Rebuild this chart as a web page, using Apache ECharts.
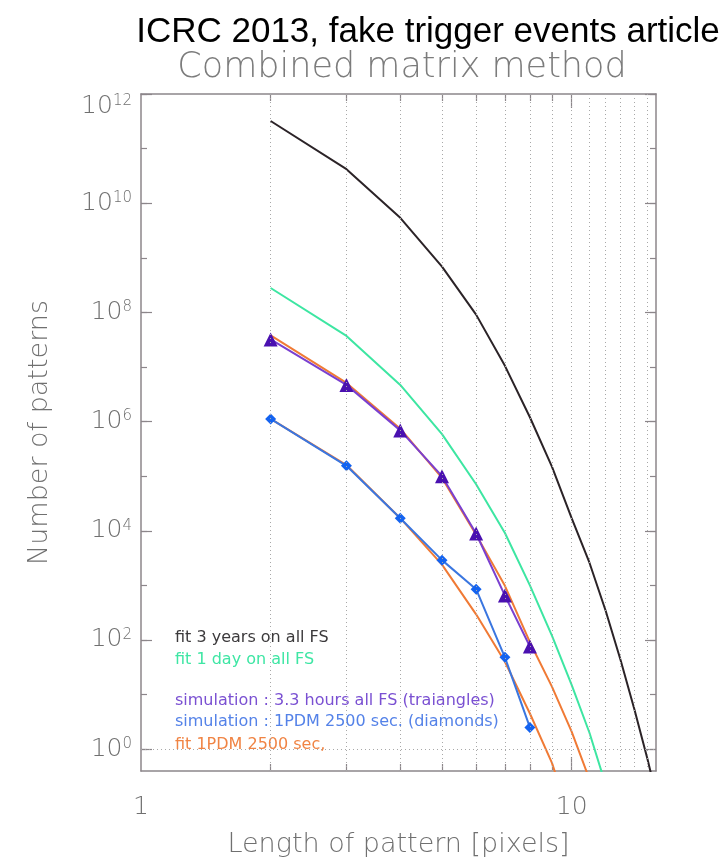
<!DOCTYPE html>
<html>
<head>
<meta charset="utf-8">
<script src="https://cdn.jsdelivr.net/npm/echarts@6/dist/echarts.min.js"></script>
<style>
html, body { margin: 0; padding: 0; background: #fff; }
#chart { width: 728px; height: 863px; }
</style>
</head>
<body>
<div id="chart"></div>
<script>
// pattern length in pixels (x values of every curve)
var pixelLengths = [2, 3, 4, 5, 6, 7, 8, 9, 10, 11, 12, 13, 14, 15, 16];

// fit curves (number of patterns)
var fit3Years = [3.2e11, 4.2e10, 5.4e9, 6.9e8, 9.1e7, 1.05e7, 1.2e6, 1.5e5, 1.7e4, 2.6e3, 340, 42, 5.2, 0.66, 0.08];
var fit1Day = [2.8e8, 3.7e7, 4.7e6, 5.9e5, 7.1e4, 9.1e3, 1.0e3, 120, 15, 2.0, 0.22];
var fit33Hours = [3.8e7, 5.1e6, 7.4e5, 9.3e4, 8.5e3, 980, 91, 14, 2.1, 0.28, 0.03];
var fit1PDM = [1.12e6, 1.6e5, 1.7e4, 2.4e3, 295, 40, 4.5, 0.56, 0.045];

// simulations
var simTriangles = [3.2e7, 4.7e6, 6.9e5, 1.0e5, 8.9e3, 650, 76];
var simDiamonds = [1.12e6, 1.55e5, 1.7e4, 2.9e3, 850, 48, 2.5];

// axis ticks and labels
var xLabelValues = [1, 10];
var xMinorTicks = [2, 3, 4, 5, 6, 7, 8, 9];
var xMajorTicks = [10];
var yDecades = [1, 1e1, 1e2, 1e3, 1e4, 1e5, 1e6, 1e7, 1e8, 1e9, 1e10, 1e11, 1e12];
var yLabelValues = [1, 1e2, 1e4, 1e6, 1e8, 1e10, 1e12];

// vertical dotted grid lines
var gridX = [2, 3, 4, 5, 6, 7, 8, 9, 10, 11, 12, 13, 14, 15];

var legendLines = [
    { text: 'fit 3 years on all FS', color: '#3c3a3c', y: 640 },
    { text: 'fit 1 day on all FS', color: '#3ee6a4', y: 662 },
    { text: 'simulation : 3.3 hours all FS (traiangles)', color: '#7a50d2', y: 703 },
    { text: 'simulation : 1PDM 2500 sec. (diamonds)', color: '#5482e8', y: 724 },
    { text: 'fit 1PDM 2500 sec,', color: '#f08444', y: 747 }
];

function pairs(values) {
    return values.map(function (v, i) { return [pixelLengths[i], v]; });
}

var dom = document.getElementById('chart');
var myChart = echarts.init(dom, null, { renderer: 'canvas' });

var axisGray = '#8c868a';
var textGray = '#707070';
var labelFont = 'DejaVu Sans';
var xMin = 1, xMax = 15.7;
var yMin = Math.pow(10, -0.4), yMax = 1e12;

function xAxisDef(position, ticks, tickLen, extra) {
    var a = {
        type: 'log', logBase: 10, min: xMin, max: xMax,
        position: position,
        axisLine: { show: true, lineStyle: { color: axisGray, width: 1.5 } },
        axisTick: { show: true, inside: true, length: tickLen, customValues: ticks, lineStyle: { color: axisGray, width: 1.2 } },
        axisLabel: { show: false },
        splitLine: { show: false }
    };
    return Object.assign(a, extra || {});
}

function yAxisDef(position, ticks, tickLen, extra) {
    var a = {
        type: 'log', logBase: 10, min: yMin, max: yMax,
        position: position,
        axisLine: { show: true, lineStyle: { color: axisGray, width: 1.5 } },
        axisTick: { show: true, inside: true, length: tickLen, customValues: ticks, lineStyle: { color: axisGray, width: 1.2 } },
        axisLabel: { show: false },
        splitLine: { show: false }
    };
    return Object.assign(a, extra || {});
}

var option = {
    animation: false,
    backgroundColor: '#fff',
    title: [
        {
            text: 'ICRC 2013, fake trigger events article',
            left: 423, top: 10, textAlign: 'center',
            textStyle: { fontFamily: 'Liberation Sans', fontSize: 35, fontWeight: 'normal', color: '#000' }
        },
        {
            text: 'Combined matrix method',
            left: 397, top: 45, textAlign: 'center',
            textStyle: { fontFamily: labelFont, fontSize: 35, fontWeight: 200, color: '#7c7c7c' }
        }
    ],
    grid: { left: 141, right: 72, top: 94, bottom: 87, containLabel: false },
    xAxis: [
        xAxisDef('bottom', xMinorTicks, 7, {
            name: 'Length of pattern [pixels]',
            nameLocation: 'middle', nameGap: 60,
            nameTextStyle: { fontFamily: labelFont, fontSize: 27, fontWeight: 200, color: textGray },
            axisLabel: {
                show: true, customValues: xLabelValues, margin: 24,
                fontFamily: labelFont, fontSize: 25, fontWeight: 200, color: textGray
            }
        }),
        xAxisDef('bottom', xMajorTicks, 14, { axisLine: { show: false } }),
        xAxisDef('top', xMinorTicks, 7),
        xAxisDef('top', xMajorTicks, 14, { axisLine: { show: false } })
    ],
    yAxis: [
        yAxisDef('left', yDecades, 6, {
            name: 'Number of patterns',
            nameLocation: 'middle', nameGap: 88, nameRotate: 90,
            nameTextStyle: { fontFamily: labelFont, fontSize: 27, fontWeight: 200, color: textGray },
            axisLabel: {
                show: true, customValues: yLabelValues, margin: 9,
                verticalAlignMaxLabel: 'top',
                formatter: function (v) {
                    return '{b|10}{s|' + Math.round(Math.log10(v)) + '}';
                },
                rich: {
                    b: { fontFamily: labelFont, fontSize: 25, fontWeight: 200, color: textGray },
                    s: { fontFamily: labelFont, fontSize: 15, fontWeight: 200, color: textGray, verticalAlign: 'top' }
                }
            }
        }),
        yAxisDef('left', yLabelValues, 11, { axisLine: { show: false } }),
        yAxisDef('right', yDecades, 6),
        yAxisDef('right', yLabelValues, 11, { axisLine: { show: false } })
    ],
    graphic: legendLines.map(function (l) {
        return {
            type: 'text', left: 175, top: l.y - 10,
            style: { text: l.text, fill: l.color, font: '16px "DejaVu Sans"' }
        };
    }),
    series: [
        {
            name: 'fit 3 years on all FS', type: 'line', data: pairs(fit3Years),
            symbol: 'none', lineStyle: { color: '#2b2327', width: 2 }, z: 2,
            markLine: {
                silent: true, symbol: 'none', label: { show: false },
                lineStyle: { type: [1, 3], color: '#a8a8a8', width: 1 },
                data: gridX.map(function (x) { return { xAxis: x }; }).concat([{ yAxis: 1 }])
            }
        },
        {
            name: 'fit 1 day on all FS', type: 'line', data: pairs(fit1Day),
            symbol: 'none', lineStyle: { color: '#3de6a2', width: 2 }, z: 2
        },
        {
            name: 'fit 3.3 hours', type: 'line', data: pairs(fit33Hours),
            symbol: 'none', lineStyle: { color: '#f07a35', width: 2 }, z: 2
        },
        {
            name: 'fit 1PDM 2500 sec,', type: 'line', data: pairs(fit1PDM),
            symbol: 'none', lineStyle: { color: '#f07a35', width: 2 }, z: 2
        },
        {
            name: 'simulation : 3.3 hours all FS (traiangles)', type: 'line', data: pairs(simTriangles),
            symbol: 'triangle', symbolSize: 14, itemStyle: { color: '#4a10b0' },
            lineStyle: { color: '#7a40d0', width: 2 }, z: 3
        },
        {
            name: 'simulation : 1PDM 2500 sec. (diamonds)', type: 'line', data: pairs(simDiamonds),
            symbol: 'diamond', symbolSize: 11, itemStyle: { color: '#1463f0' },
            lineStyle: { color: '#3a76e0', width: 2 }, z: 3
        }
    ]
};

if (option && typeof option === 'object') {
    myChart.setOption(option, true);
}
</script>
</body>
</html>
